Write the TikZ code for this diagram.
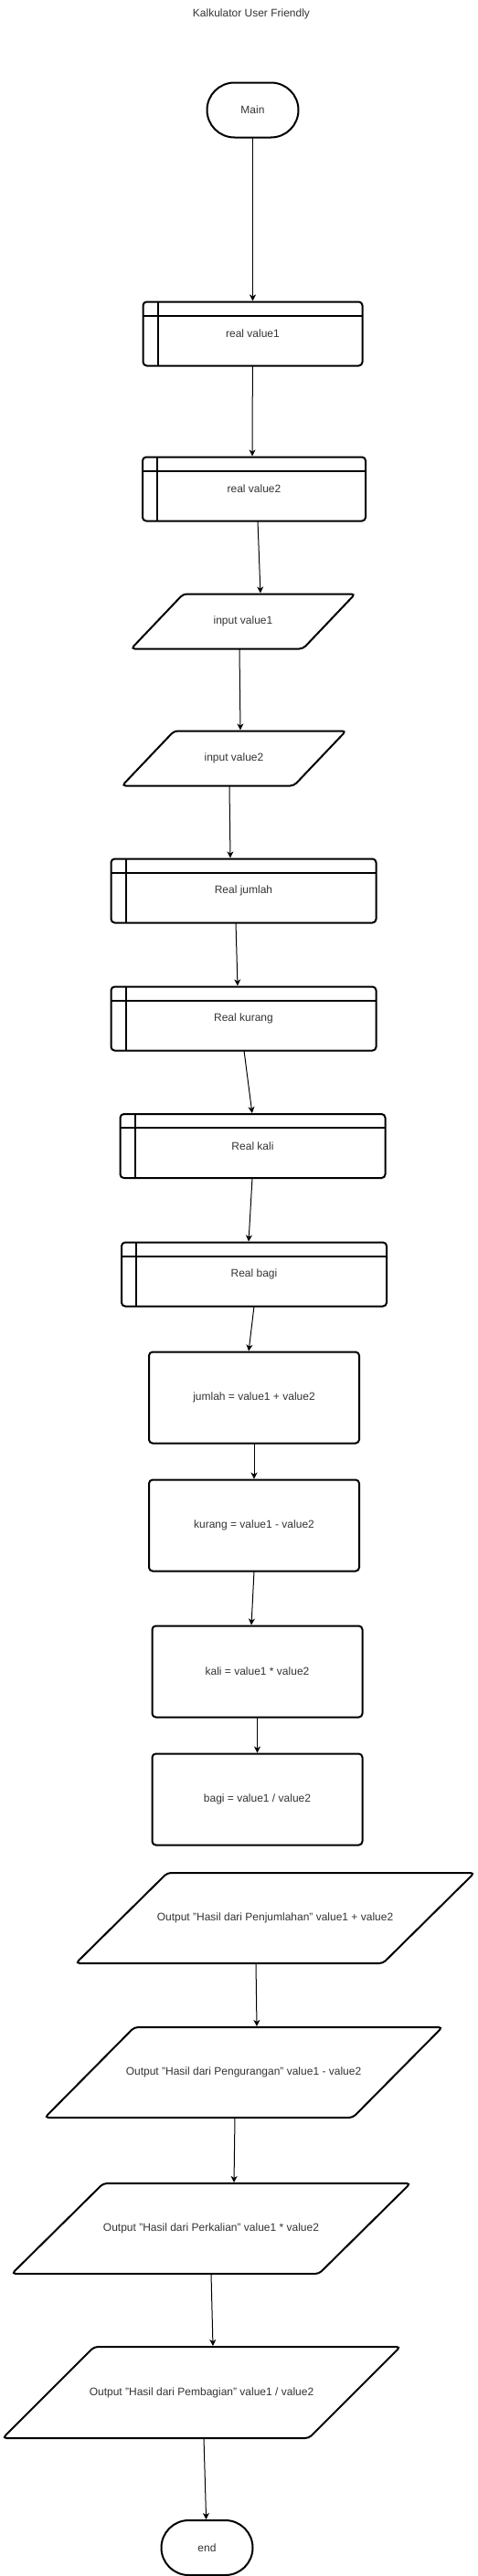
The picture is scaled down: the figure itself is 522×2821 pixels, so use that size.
\documentclass[tikz,border=0pt]{standalone}
\usepackage{fontspec}
\setmainfont{Liberation Sans}
\usetikzlibrary{arrows.meta,shapes.misc}

\begin{document}
\begin{tikzpicture}[x=1pt,y=-1pt,font=\fontsize{12}{14}\selectfont,text=black!80,
  term/.style={draw,rounded rectangle,line width=2pt,minimum width=100pt,minimum height=60pt,inner sep=0pt,outer sep=0pt},
  store/.style={draw,rounded corners=4pt,line width=2pt,minimum height=70pt,inner sep=0pt,outer sep=0pt},
  proc/.style={draw,rounded corners=4pt,line width=2pt,minimum width=230pt,minimum height=100pt,inner sep=0pt,outer sep=0pt},
  io/.style={inner sep=0pt,outer sep=0pt},
  flow/.style={-{Stealth[length=7pt,width=7pt,inset=2pt]},line width=1pt,shorten >=1pt}]
  \useasboundingbox (0,0) rectangle (522,2821);

  \node (title) at (275,15) {Kalkulator User Friendly};

  \node[term] (main) at (276.5,120.5) {Main};

  \node[store,minimum width=240pt] (rv1) at (276.5,365.5) {real value1};
  \node[store,minimum width=244pt] (rv2) at (278,535.5) {real value2};

  \node[io,minimum width=245pt,minimum height=60pt] (in1) at (266,680.5) {input value1};
  \node[io,minimum width=245pt,minimum height=60pt] (in2) at (256,830.5) {input value2};

  \node[store,minimum width=290pt] (rjum) at (266.5,975.5) {Real jumlah};
  \node[store,minimum width=290pt] (rkur) at (266.5,1115.5) {Real kurang};
  \node[store,minimum width=290pt] (rkali) at (276.5,1255) {Real kali};
  \node[store,minimum width=290pt] (rbagi) at (278,1395.5) {Real bagi};

  \node[proc] (jum) at (278,1530.5) {jumlah = value1 + value2};
  \node[proc] (kur) at (278,1670.5) {kurang = value1 - value2};
  \node[proc] (kali) at (281.5,1830.5) {kali = value1 * value2};
  \node[proc] (bagi) at (281.5,1970.5) {bagi = value1 / value2};

  \node[io,minimum width=436pt,minimum height=99pt] (out1) at (301,2100.5) {Output "Hasil dari Penjumlahan" value1 + value2};
  \node[io,minimum width=435pt,minimum height=99pt] (out2) at (266.5,2269.5) {Output "Hasil dari Pengurangan" value1 - value2};
  \node[io,minimum width=436pt,minimum height=99pt] (out3) at (231,2440.5) {Output "Hasil dari Perkalian" value1 * value2};
  \node[io,minimum width=435pt,minimum height=100pt] (out4) at (220.5,2620) {Output "Hasil dari Pembagian" value1 / value2};

  \node[term] (end) at (226.5,2790) {end};

  % extra lines of the storage boxes
  \foreach \n in {rv1,rv2,rjum,rkur,rkali,rbagi}
    \draw[line width=2pt] ([xshift=16pt]\n.north west) -- ([xshift=16pt]\n.south west)
      ([yshift=-15pt]\n.north west) -- ([yshift=-15pt]\n.north east);

  % input/output parallelograms
  \foreach \n/\s in {in1/57,in2/57,out1/100,out2/98,out3/100,out4/100}
    \draw[line width=2pt,rounded corners=4pt] ([xshift=\s pt]\n.north west) -- (\n.north east)
      -- ([xshift=-\s pt]\n.south east) -- (\n.south west) -- cycle;

  \draw[flow] (main) -- (rv1);
  \draw[flow] (rv1) -- ([xshift=-2pt]rv2.north);
  \draw[flow] ([xshift=4pt]rv2.south) -- ([xshift=19pt]in1.north);
  \draw[flow] ([xshift=-4pt]in1.south) -- ([xshift=7pt]in2.north);
  \draw[flow] ([xshift=-5pt]in2.south) -- ([xshift=-14.5pt]rjum.north);
  \draw[flow] ([xshift=-8.5pt]rjum.south) -- ([xshift=-6.5pt]rkur.north);
  \draw[flow] ([xshift=0.5pt]rkur.south) -- ([xshift=-0.5pt]rkali.north);
  \draw[flow] ([xshift=-0.5pt]rkali.south) -- ([xshift=-6pt]rbagi.north);
  \draw[flow] (rbagi.south) -- ([xshift=-6pt]jum.north);
  \draw[flow] (jum) -- (kur);
  \draw[flow] (kur.south) -- ([xshift=-6.5pt]kali.north);
  \draw[flow] (kali) -- (bagi);
  \draw[flow] ([xshift=-21pt]out1.south) -- ([xshift=14.5pt]out2.north);
  \draw[flow] ([xshift=-9.5pt]out2.south) -- ([xshift=25pt]out3.north);
  \draw[flow] (out3.south) -- ([xshift=12.5pt]out4.north);
  \draw[flow] ([xshift=2.5pt]out4.south) -- (end);
\end{tikzpicture}
\end{document}
